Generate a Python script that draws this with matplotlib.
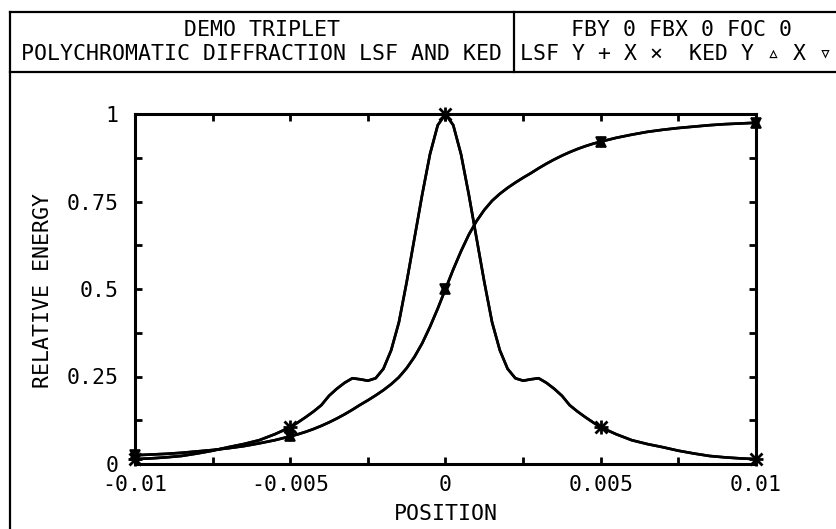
import numpy as np
import matplotlib
matplotlib.use("Agg")
import matplotlib.pyplot as plt
from matplotlib.lines import Line2D
from matplotlib.ticker import FixedLocator, FixedFormatter

# ---------------- data ----------------
position_e3 = [-10, -9.5, -9, -8.5, -8, -7.5, -7, -6.5, -6, -5.5,
               -5, -4.75, -4.5, -4.25, -4, -3.75, -3.5, -3.25, -3, -2.75,
               -2.5, -2.25, -2, -1.75, -1.5, -1.25, -1, -0.75, -0.5, -0.25,
               0,
               0.25, 0.5, 0.75, 1, 1.25, 1.5, 1.75, 2, 2.25, 2.5,
               2.75, 3, 3.25, 3.5, 3.75, 4, 4.25, 4.5, 4.75, 5,
               5.5, 6, 6.5, 7, 7.5, 8, 8.5, 9, 9.5, 10]

lsf_y = [0.014, 0.016, 0.019, 0.023, 0.030, 0.038, 0.048, 0.057, 0.068, 0.085,
         0.105, 0.119, 0.134, 0.150, 0.168, 0.195, 0.215, 0.232, 0.245, 0.242,
         0.238, 0.245, 0.272, 0.325, 0.405, 0.520, 0.645, 0.770, 0.885, 0.968,
         1.000,
         0.968, 0.885, 0.770, 0.645, 0.520, 0.405, 0.325, 0.272, 0.245, 0.238,
         0.242, 0.245, 0.232, 0.215, 0.195, 0.168, 0.150, 0.134, 0.119, 0.105,
         0.085, 0.068, 0.057, 0.048, 0.038, 0.030, 0.023, 0.019, 0.016, 0.014]
lsf_x = list(lsf_y)

ked_y = [0.025, 0.027, 0.029, 0.032, 0.036, 0.040, 0.045, 0.051, 0.059, 0.068,
         0.079, 0.085, 0.092, 0.100, 0.109, 0.119, 0.130, 0.142, 0.155, 0.169,
         0.182, 0.196, 0.211, 0.228, 0.248, 0.274, 0.306, 0.345, 0.392, 0.444,
         0.500,
         0.556, 0.608, 0.655, 0.694, 0.726, 0.752, 0.772, 0.789, 0.804, 0.818,
         0.831, 0.845, 0.858, 0.870, 0.881, 0.891, 0.900, 0.908, 0.915, 0.921,
         0.932, 0.941, 0.949, 0.955, 0.960, 0.964, 0.968, 0.971, 0.973, 0.975]
ked_x = list(ked_y)

marker_positions_e3 = [-10, -5, 0, 5, 10]

x_ticks = [-0.01, -0.005, 0.0, 0.005, 0.01]
x_tick_labels = ["-0.01", "-0.005", "0", "0.005", "0.01"]
x_minor = [-0.0075, -0.0025, 0.0025, 0.0075]
y_ticks = [0, 0.25, 0.5, 0.75, 1.0]
y_tick_labels = ["0", "0.25", "0.5", "0.75", "1"]
y_minor = [0.125, 0.375, 0.625, 0.875]

title_left = ["DEMO TRIPLET", "POLYCHROMATIC DIFFRACTION LSF AND KED"]
title_right = ["FBY 0 FBX 0 FOC 0", "LSF Y + X \u00d7  KED Y \u25b5 X \u25bf"]
x_label = "POSITION"
y_label = "RELATIVE ENERGY"

# ---------------- drawing ----------------
FONT = ["DejaVu Sans Mono", "DejaVu Sans"]
FS = 15.5
W, H = 837, 529

fig = plt.figure(figsize=(W / 100, H / 100), dpi=100)
fig.patch.set_facecolor("white")

def fx(px):
    return px / W

def fy(py):
    return 1 - py / H

ax = fig.add_axes([fx(135), fy(464), fx(756) - fx(135), fy(114) - fy(464)])
ax.set_xlim(-0.01, 0.01)
ax.set_ylim(0, 1)

pos = np.array(position_e3) * 1e-3
mk = [position_e3.index(p) for p in marker_positions_e3]

lw = 1.9
ax.plot(pos, lsf_y, color="black", lw=lw, marker="+", markevery=mk,
        markersize=10, markeredgewidth=2, clip_on=False, zorder=3)
ax.plot(pos, lsf_x, color="black", lw=lw, marker="x", markevery=mk,
        markersize=8, markeredgewidth=2, clip_on=False, zorder=3)
ax.plot(pos, ked_y, color="black", lw=lw, marker="^", markevery=mk,
        markersize=7, markeredgewidth=1.2, markerfacecolor="black",
        clip_on=False, zorder=3)
ax.plot(pos, ked_x, color="black", lw=lw, marker="v", markevery=mk,
        markersize=7, markeredgewidth=1.2, markerfacecolor="black",
        clip_on=False, zorder=3)

for s in ax.spines.values():
    s.set_linewidth(2.2)
    s.set_color("black")

ax.xaxis.set_major_locator(FixedLocator(x_ticks))
ax.xaxis.set_major_formatter(FixedFormatter(x_tick_labels))
ax.xaxis.set_minor_locator(FixedLocator(x_minor))
ax.yaxis.set_major_locator(FixedLocator(y_ticks))
ax.yaxis.set_major_formatter(FixedFormatter(y_tick_labels))
ax.yaxis.set_minor_locator(FixedLocator(y_minor))
ax.tick_params(which="both", direction="in", length=5, width=2,
               top=True, right=True, colors="black")
ax.tick_params(axis="x", which="major", pad=8, labelsize=FS)
ax.tick_params(axis="y", which="major", pad=12, labelsize=FS)
for lab in ax.get_xticklabels() + ax.get_yticklabels():
    lab.set_family(FONT)

fig.text(fx(446), fy(514), x_label, ha="center", va="center",
         fontsize=FS, family=FONT)
fig.text(fx(43), fy(290), y_label, ha="center", va="center",
         rotation=90, fontsize=FS, family=FONT)

# header frame
flw = 1.6
def fline(x0, y0, x1, y1):
    fig.add_artist(Line2D([fx(x0), fx(x1)], [fy(y0), fy(y1)],
                          transform=fig.transFigure, color="black",
                          lw=flw, solid_capstyle="projecting"))

fline(10, 12, 850, 12)
fline(10, 12, 10, 540)
fline(10, 72, 850, 72)
fline(514, 12, 514, 72)

fig.text(fx(262), fy(30), title_left[0], ha="center", va="center",
         fontsize=FS, family=FONT)
fig.text(fx(262), fy(54), title_left[1], ha="center", va="center",
         fontsize=FS, family=FONT)
fig.text(fx(682), fy(30), title_right[0], ha="center", va="center",
         fontsize=FS, family=FONT)
fig.text(fx(676), fy(54), title_right[1], ha="center", va="center",
         fontsize=FS, family=FONT)

fig.savefig("out.png", dpi=100, facecolor="white")
